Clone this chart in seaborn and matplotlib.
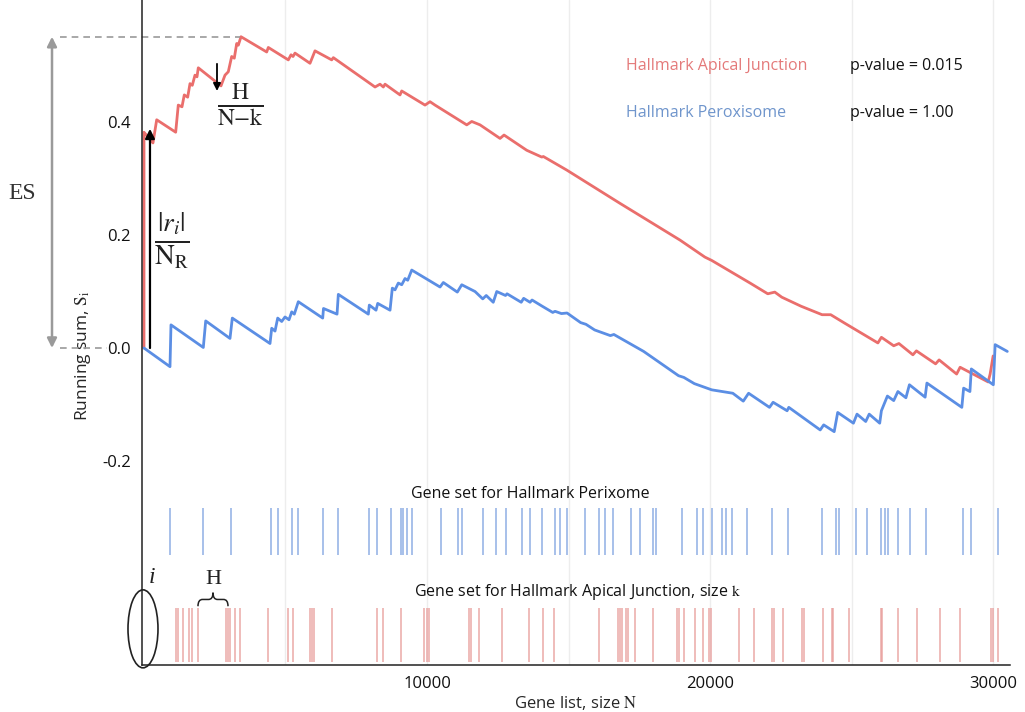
import numpy as np
import pandas as pd
import matplotlib
matplotlib.use("Agg")
import matplotlib.pyplot as plt
import seaborn as sns
from matplotlib.patches import Ellipse, PathPatch
from matplotlib.path import Path

# Running sum, Hallmark Apical Junction (gene rank, S_i)
red_rank = [0, 0, 318, 449, 1120, 1212, 1343, 1424, 1544, 1626, 1707, 1802, 1873, 1919,
            2721, 2863, 2979, 3099, 3191, 3276, 3333, 3428, 4336, 4393, 5100, 5195, 5266,
            5336, 5866, 6043, 6633, 6690, 8164, 8340, 8457, 8517, 9047, 9107, 9930, 10107,
            10284, 11404, 11581, 11874, 12581, 12722, 13525, 14055, 14111, 14938, 16822,
            18942, 19818, 20062, 21416, 22041, 22289, 22536, 23218, 23960, 24265, 24759,
            25932, 26056, 26491, 26675, 27169, 27293, 27971, 28095, 28714, 28837, 29827,
            29898, 30004]
red_sum = [0.0, 0.382, 0.363, 0.404, 0.382, 0.430, 0.427, 0.448, 0.444, 0.468, 0.465, 0.483,
           0.480, 0.496, 0.464, 0.483, 0.489, 0.516, 0.513, 0.539, 0.536, 0.551, 0.524, 0.532,
           0.510, 0.519, 0.516, 0.522, 0.504, 0.526, 0.510, 0.514, 0.462, 0.467, 0.462, 0.467,
           0.448, 0.455, 0.430, 0.436, 0.430, 0.395, 0.401, 0.395, 0.371, 0.377, 0.350, 0.338,
           0.339, 0.315, 0.256, 0.191, 0.161, 0.155, 0.115, 0.096, 0.099, 0.090, 0.074, 0.059,
           0.059, 0.044, 0.009, 0.019, 0.004, 0.008, -0.012, -0.005, -0.028, -0.021, -0.046,
           -0.034, -0.060, -0.046, -0.014]

# Running sum, Hallmark Peroxisome
blue_rank = [0, 919, 954, 2096, 2181, 3039, 3121, 4453, 4513, 4630, 4725, 4866, 4983, 5124,
             5220, 5312, 5453, 6315, 6343, 6821, 6867, 7927, 7962, 8199, 8259, 8694, 8775,
             8870, 8987, 9107, 9224, 9319, 9461, 10461, 10577, 11072, 11228, 11698, 11970,
             12094, 12341, 12465, 12775, 12828, 13330, 13415, 13641, 13712, 14072, 14443,
             14525, 14751, 14949, 15429, 15617, 15924, 16479, 16603, 17656, 18889, 19076,
             19447, 20062, 20805, 21176, 21363, 22102, 22229, 22724, 22784, 23894, 24017,
             24388, 24512, 25067, 25194, 25502, 25625, 25996, 26056, 26268, 26491, 26639,
             26922, 27046, 27601, 27664, 28898, 28961, 29184, 29233, 30011, 30075, 30505]
blue_sum = [0.0, -0.033, 0.041, 0.001, 0.048, 0.017, 0.053, 0.008, 0.035, 0.030, 0.053, 0.047,
            0.055, 0.050, 0.064, 0.060, 0.082, 0.053, 0.070, 0.060, 0.095, 0.060, 0.076, 0.067,
            0.079, 0.067, 0.106, 0.103, 0.115, 0.112, 0.123, 0.120, 0.138, 0.108, 0.116, 0.099,
            0.112, 0.100, 0.087, 0.093, 0.081, 0.100, 0.093, 0.096, 0.081, 0.088, 0.081, 0.085,
            0.074, 0.063, 0.065, 0.061, 0.062, 0.045, 0.042, 0.032, 0.022, 0.024, -0.006,
            -0.049, -0.052, -0.063, -0.074, -0.080, -0.094, -0.080, -0.105, -0.096, -0.111,
            -0.105, -0.145, -0.136, -0.148, -0.114, -0.133, -0.117, -0.130, -0.117, -0.133,
            -0.111, -0.085, -0.093, -0.077, -0.088, -0.065, -0.087, -0.062, -0.105, -0.071,
            -0.077, -0.037, -0.065, 0.006, -0.006]

# gene set hit positions in the ranked list
blue_hits = [920, 2100, 3060, 4490, 4750, 5220, 5450, 6320, 6870, 7960, 8250, 8720, 9080,
             9160, 9280, 9460, 10500, 11090, 11230, 11990, 12440, 12790, 13370, 13640, 14050,
             14520, 14700, 14960, 15590, 16090, 16290, 16590, 17200, 17530, 18000, 18090,
             19000, 19530, 19740, 20060, 20420, 20560, 20770, 21300, 22180, 22750, 23950,
             24460, 24570, 25160, 25560, 26040, 26190, 26300, 26660, 27050, 27640, 28950,
             29220, 30170]
red_hits = [1130, 1190, 1390, 1600, 1690, 1920, 2900, 2980, 3040, 3220, 3390, 4390, 5100,
            5280, 5870, 5930, 6010, 6630, 8220, 8460, 9070, 9900, 10010, 10070, 11500, 11550,
            11850, 12640, 13620, 14090, 14490, 16090, 16760, 16820, 16890, 17020, 17120,
            17350, 18000, 18850, 18920, 19080, 19470, 19770, 19970, 20030, 21040, 21560,
            22200, 22260, 22590, 23260, 23320, 24010, 24300, 24360, 24920, 26040, 26090,
            26660, 27310, 28110, 28840, 29920, 29990, 30190]

x_ticks = [10000, 20000, 30000]
y_ticks = [-0.2, 0.0, 0.2, 0.4]
y_labels = ["-0.2", "0.0", "0.2", "0.4"]
es_value = 0.551

RED = "#ea6e6c"
BLUE = "#5b8ee4"

sns.set_theme(style="white")
plt.rcParams["font.family"] = ["Open Sans", "DejaVu Sans"]
plt.rcParams["mathtext.fontset"] = "stix"

fig = plt.figure(figsize=(10.25, 7.12), dpi=100)
ax = fig.add_axes([142 / 1025, 47 / 712, 868 / 1025, 665 / 712])

red_df = pd.DataFrame({"rank": red_rank, "S": red_sum})
blue_df = pd.DataFrame({"rank": blue_rank, "S": blue_sum})
sns.lineplot(data=red_df, x="rank", y="S", sort=False, estimator=None, color=RED, lw=2.0, ax=ax)
sns.lineplot(data=blue_df, x="rank", y="S", sort=False, estimator=None, color=BLUE, lw=2.0, ax=ax)

# hit rugs
ax.vlines(blue_hits, -0.366, -0.283, color="#86a8e2", lw=1.2, alpha=0.85)
ax.vlines(red_hits, -0.556, -0.460, color="#e89a98", lw=1.1, alpha=0.85)

ax.set_xlim(-70, 30600)
ax.set_ylim(-0.561, 0.616)
ax.set_xticks(x_ticks)
ax.set_xticks(np.arange(5000, 30001, 5000), minor=True)
ax.set_yticks(y_ticks)
ax.set_yticklabels(y_labels)
ax.grid(axis="x", which="both", color="#ededed", lw=1)
ax.set_axisbelow(True)
for s in ["top", "right"]:
    ax.spines[s].set_visible(False)
for s in ["left", "bottom"]:
    ax.spines[s].set_color("#222222")
    ax.spines[s].set_linewidth(1.1)
ax.tick_params(axis="both", which="major", length=3, width=0.8, color="#555555",
               labelsize=12, pad=5, labelcolor="#111111")
ax.tick_params(axis="x", which="minor", length=0)

ax.set_xlabel("Gene list, size $\\mathrm{N}$", fontsize=12, labelpad=1)
ax.set_ylabel("Running sum, $\\mathrm{S_i}$", fontsize=12.5)
ax.yaxis.set_label_coords(-0.056, 0.465)

# legend-like labels
ax.text(17030, 0.499, "Hallmark Apical Junction", color="#e47a7a", fontsize=11.5, va="center")
ax.text(24950, 0.499, "p-value = 0.015", color="#111111", fontsize=11.5, va="center")
ax.text(17030, 0.416, "Hallmark Peroxisome", color="#6f95cc", fontsize=11.5, va="center")
ax.text(24950, 0.416, "p-value = 1.00", color="#111111", fontsize=11.5, va="center")

ax.text(13640, -0.258, "Gene set for Hallmark Perixome", fontsize=11.5, ha="center",
        va="center", color="#111111")
ax.text(15340, -0.432, "Gene set for Hallmark Apical Junction, size $\\mathrm{k}$",
        fontsize=11.5, ha="center", va="center", color="#111111")

# ES annotation
ax.annotate("", xy=(-3250, es_value), xytext=(-3250, 0.0), annotation_clip=False,
            arrowprops=dict(arrowstyle="<|-|>", color="#9a9a9a", lw=1.8,
                            mutation_scale=14, shrinkA=0, shrinkB=0))
ax.plot([-2970, 3390], [es_value, es_value], ls=(0, (4, 3)), color="#9a9a9a", lw=1.2,
        clip_on=False)
ax.plot([-2970, -1300], [0, 0], ls=(0, (4, 3)), color="#9a9a9a", lw=1.2, clip_on=False)
ax.text(-4300, 0.274, "ES", fontsize=17, family="Liberation Serif", ha="center",
        va="center", color="#333333")

ax.annotate("", xy=(212, 0.388), xytext=(212, 0.0), annotation_clip=False,
            arrowprops=dict(arrowstyle="-|>", color="black", lw=1.6,
                            mutation_scale=14, shrinkA=0, shrinkB=0))
ax.text(1000, 0.19, r"$\frac{|r_i|}{\mathrm{N}_\mathrm{R}}$", fontsize=28,
        ha="center", va="center", color="#222222")

ax.annotate("", xy=(2580, 0.455), xytext=(2580, 0.503),
            arrowprops=dict(arrowstyle="-|>", color="black", lw=1.3,
                            mutation_scale=11, shrinkA=0, shrinkB=0))
ax.text(3390, 0.43, r"$\frac{\mathrm{H}}{\mathrm{N{-}k}}$", fontsize=24,
        ha="center", va="center", color="#222222")

# ellipse around gene i, brace for H
ax.add_patch(Ellipse((-35, -0.497), 1060, 0.138, fill=False, ec="#222222", lw=1.2,
                     clip_on=False))
ax.text(283, -0.407, "i", fontsize=17, family="Liberation Serif", style="italic",
        ha="center", va="center", color="#222222")
ax.text(2440, -0.410, "H", fontsize=16, family="Liberation Serif", ha="center",
        va="center", color="#222222")

x0, x1, yb, yt = 1908, 2969, -0.457, -0.433
xm, w, ymid = (x0 + x1) / 2, x1 - x0, (yb + yt) / 2
verts = [(x0, yb), (x0, ymid), (x0 + 0.15 * w, ymid), (xm - 0.15 * w, ymid),
         (xm, ymid), (xm, yt), (xm, ymid), (xm + 0.15 * w, ymid),
         (x1 - 0.15 * w, ymid), (x1, ymid), (x1, yb)]
codes = [Path.MOVETO, Path.CURVE3, Path.CURVE3, Path.LINETO, Path.CURVE3, Path.CURVE3,
         Path.CURVE3, Path.CURVE3, Path.LINETO, Path.CURVE3, Path.CURVE3]
ax.add_patch(PathPatch(Path(verts, codes), fill=False, ec="#222222", lw=1.1))

fig.savefig("out.png", dpi=100)
